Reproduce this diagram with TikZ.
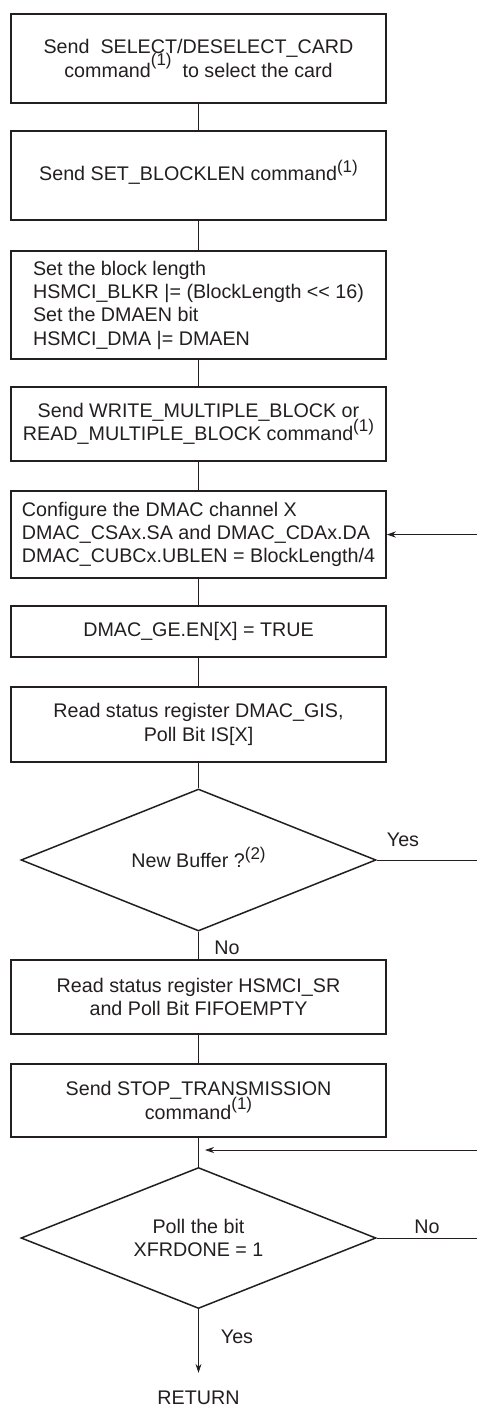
\documentclass[tikz,border=0pt]{standalone}
\usepackage{fontspec}
\setmainfont{Liberation Sans}
\usetikzlibrary{shapes.geometric,arrows.meta}
\definecolor{ink}{HTML}{231F20}
\newcommand\supx[2][8pt]{\smash{\raisebox{#1}{\fontsize{17}{17}\selectfont(#2)}}}
\tikzset{
  pbox/.style={draw=ink, line width=1.5pt, minimum width=375pt, inner sep=0pt, align=center, text=ink,
    font=\fontsize{19.7}{23.3}\selectfont},
  pdec/.style={draw=ink, line width=1.5pt, diamond, aspect=2.5, inner sep=0pt, minimum width=355pt,
    minimum height=142pt, align=center, text=ink, font=\fontsize{19.7}{23.3}\selectfont},
  lbl/.style={text=ink, inner sep=0pt, font=\fontsize{19.7}{23.3}\selectfont},
  conn/.style={draw=ink, line width=0.8pt},
  arr/.style={conn, -{Stealth[length=9pt,width=6pt]}}
}
\begin{document}
\begin{tikzpicture}[x=1pt,y=-1pt]
\useasboundingbox (0,0) rectangle (477,1407);
\node[pbox, minimum height=89pt] (b1) at (198.5,58.5) {Send\ \ SELECT/DESELECT\_CARD\\command\supx[12pt]{1}\ \ to select the card};
\node[pbox, minimum height=89pt] (b2) at (198.5,175.5) {Send SET\_BLOCKLEN command\supx{1}};
\node[pbox, minimum height=108pt, align=left] (b3) at (198.5,305) {Set the block length\\HSMCI\_BLKR |= (BlockLength <{}< 16)\\Set the DMAEN bit\\HSMCI\_DMA |= DMAEN};
\node[pbox, minimum height=74pt] (b4) at (198.5,424) {Send WRITE\_MULTIPLE\_BLOCK or\\READ\_MULTIPLE\_BLOCK command\supx[9pt]{1}};
\node[pbox, minimum height=87pt, align=left] (b5) at (198.5,534.5) {Configure the DMAC channel X\\DMAC\_CSAx.SA and DMAC\_CDAx.DA\\DMAC\_CUBCx.UBLEN = BlockLength/4};
\node[pbox, minimum height=51pt] (b6) at (198.5,631.5) {DMAC\_GE.EN[X] = TRUE};
\node[pbox, minimum height=75pt] (b7) at (198.5,724.5) {Read status register DMAC\_GIS,\\Poll Bit IS[X]};
\node[pdec] (d1) at (198.5,860) {New Buffer ?\supx{2}};
\node[pbox, minimum height=74pt] (b8) at (198.5,997) {Read status register HSMCI\_SR\\and Poll Bit FIFOEMPTY};
\node[pbox, minimum height=73pt] (b9) at (198.5,1100.5) {Send STOP\_TRANSMISSION\\command\supx[10pt]{1}};
\node[pdec, minimum height=141pt] (d2) at (198.5,1238) {Poll the bit\\XFRDONE = 1};
\node[lbl, inner sep=18pt] (ret) at (198.5,1398) {RETURN};
\coordinate (yesend) at (477,860);
\coordinate (loopin) at (477,534.5);
\coordinate (noend) at (477,1238);
\coordinate (loop2) at (477,1150);
\coordinate (loop2tip) at (205,1150);
\draw[conn] (b1) -- (b2);
\draw[conn] (b2) -- (b3);
\draw[conn] (b3) -- (b4);
\draw[conn] (b4) -- (b5);
\draw[conn] (b5) -- (b6);
\draw[conn] (b6) -- (b7);
\draw[conn] (b7.south) -- (d1.north);
\draw[conn] (d1.south) -- (b8.north);
\draw[conn] (b8) -- (b9);
\draw[conn] (b9.south) -- (d2.north);
\draw[conn] (d1.east) -- (yesend);
\draw[arr] (loopin) -- (b5.east);
\draw[conn] (d2.east) -- (noend);
\draw[arr] (loop2) -- (loop2tip);
\draw[arr] (d2.south) -- (ret.north);
\node[lbl] (yes1) at (403,840) {Yes};
\node[lbl] (no1) at (227,948) {No};
\node[lbl] (no2) at (427,1227) {No};
\node[lbl] (yes2) at (237,1337) {Yes};
\end{tikzpicture}
\end{document}
